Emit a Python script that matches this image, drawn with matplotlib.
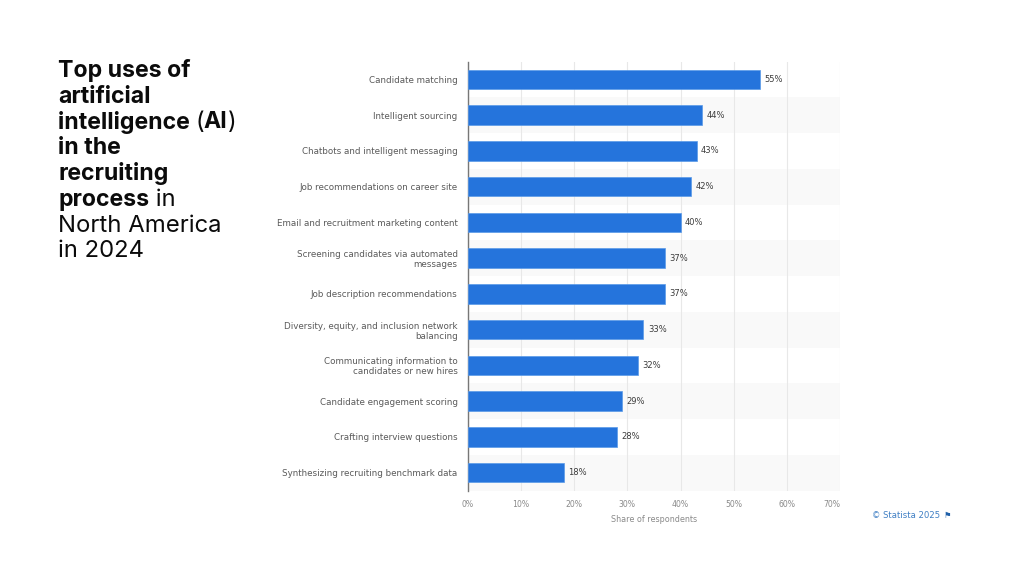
import matplotlib
matplotlib.use("Agg")
import matplotlib.pyplot as plt

plt.rcParams["font.family"] = ["DejaVu Sans"]

categories = [
    "Candidate matching", "Intelligent sourcing", "Chatbots and intelligent messaging",
    "Job recommendations on career site", "Email and recruitment marketing content",
    "Screening candidates via automated\nmessages", "Job description recommendations",
    "Diversity, equity, and inclusion network\nbalancing",
    "Communicating information to\ncandidates or new hires",
    "Candidate engagement scoring", "Crafting interview questions",
    "Synthesizing recruiting benchmark data",
]
values = [55, 44, 43, 42, 40, 37, 37, 33, 32, 29, 28, 18]
xticks = [0, 10, 20, 30, 40, 50, 60, 70]
title_lines = [
    [("Top uses of", "bold")],
    [("artificial", "bold")],
    [("intelligence ", "bold"), ("(", "normal"), ("AI", "bold"), (")", "normal")],
    [("in the", "bold")],
    [("recruiting", "bold")],
    [("process", "bold"), (" in", "normal")],
    [("North America", "normal")],
    [("in 2024", "normal")],
]

W, H = 1024, 576
fig = plt.figure(figsize=(W / 100, H / 100), dpi=100, facecolor="white")
ax = fig.add_axes([468 / W, 1 - 490.5 / H, (840 - 468) / W, (490.5 - 61.5) / H])
ys = list(range(len(values)))
ax.set_xlim(0, 70)
ax.set_ylim(len(values) - 0.5, -0.5)
for y in ys:
    if y % 2 == 1:
        ax.axhspan(y - 0.5, y + 0.5, color="#f9f9f9", lw=0, zorder=0)
ax.set_axisbelow(True)
ax.grid(axis="x", color="#e8e8e8", lw=0.8)
ax.barh(ys, values, height=0.55, color="#2574dc", edgecolor="#5a9ae8", linewidth=0.5, zorder=3)
for y, v in zip(ys, values):
    ax.annotate(f"{v}%", (v, y), xytext=(3.2, 0), textcoords="offset points", va="center",
                ha="left", fontsize=6.0, color="#3c3c3c")
for s in ("top", "right", "bottom"):
    ax.spines[s].set_visible(False)
ax.spines["left"].set_color("#777777")
ax.spines["left"].set_linewidth(1.0)
ax.set_yticks(ys, categories, fontsize=6.35, color="#5a5a5a", linespacing=1.15)
ax.set_xticks(xticks, [f"{t}%" for t in xticks], fontsize=5.6, color="#8a8a8a")
ax.get_xticklabels()[-1].set_ha("right")
ax.tick_params(length=0)
ax.tick_params(axis="y", pad=7.5)
ax.tick_params(axis="x", pad=6.5)
ax.set_xlabel("Share of respondents", fontsize=5.8, color="#8a8a8a", labelpad=5, x=0.5)

fig.text(872 / W, 1 - 516 / H, "© Statista 2025", fontsize=6.1, color="#3f7fc4", va="center")
fig.text(947.5 / W, 1 - 516 / H, "⚑", fontsize=6, color="#1f5fa8", ha="center", va="center")

fig.canvas.draw()
renderer = fig.canvas.get_renderer()
for i, parts in enumerate(title_lines):
    x = 58
    base = 77 + i * 25.75
    for s, w in parts:
        size = 16.6 if w == "bold" else 17.2
        fig.text(x / W, 1 - base / H, s, fontsize=size, fontweight=w, family="Inter",
                 color="#0b0b0b", va="baseline", ha="left")
        probe = fig.text(0, 0, s.replace(" ", "\u00a0"), fontsize=size, fontweight=w, family="Inter")
        x += probe.get_window_extent(renderer).width
        probe.remove()

fig.savefig("out.png", dpi=100)
